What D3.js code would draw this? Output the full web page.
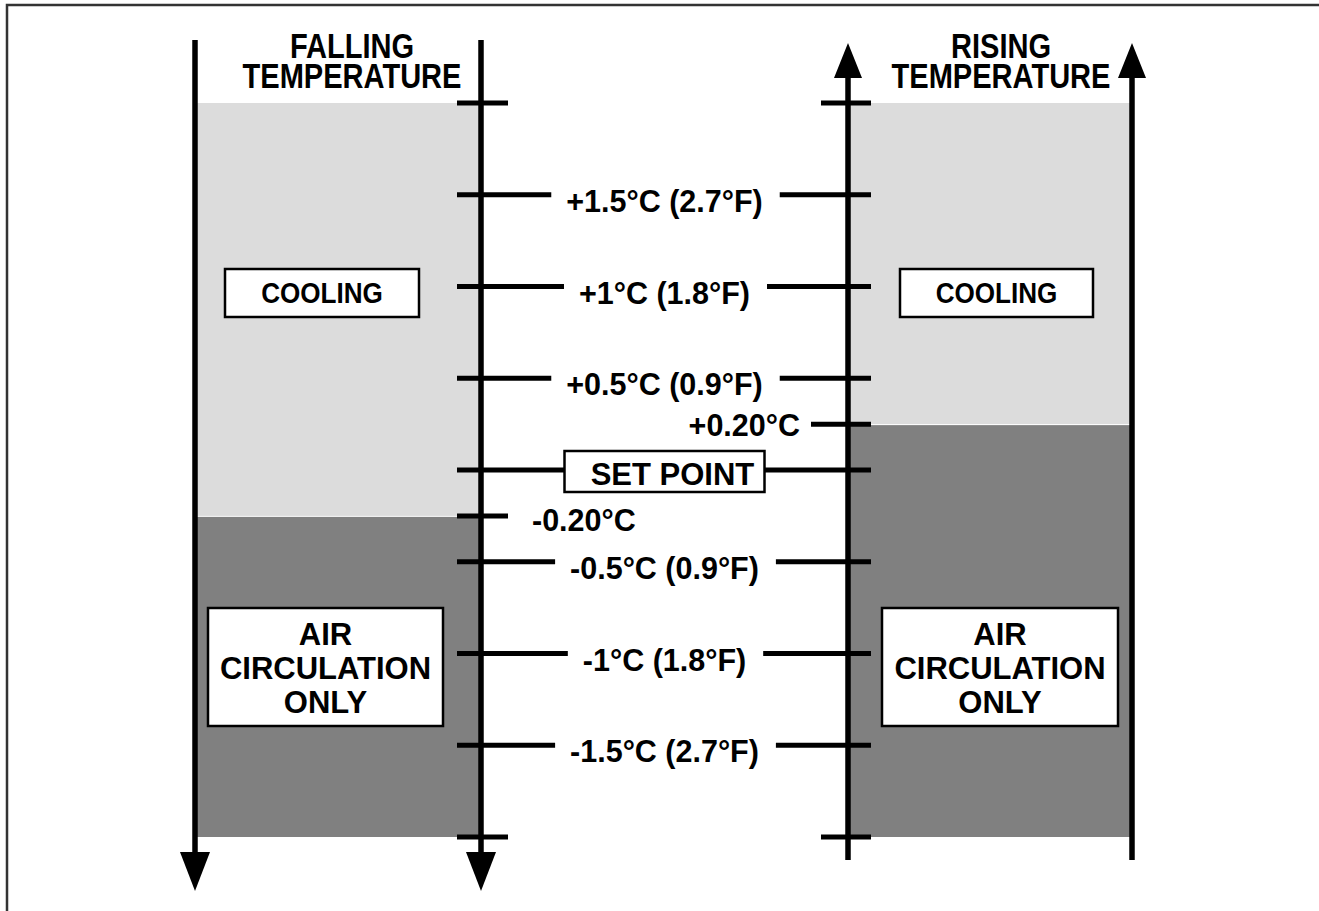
<!DOCTYPE html>
<html>
<head>
<meta charset="utf-8">
<script src="https://cdn.jsdelivr.net/npm/d3@7"></script>
<style>
  html, body { margin: 0; padding: 0; background: #fff; }
  svg text { font-family: "Liberation Sans", Arial, Helvetica, sans-serif; font-weight: bold; fill: #000; }
</style>
</head>
<body>
<svg id="chart" width="1319" height="911"></svg>
<script>
// temperature offset from set point (deg C), position on the scale
var tickValues = [2, 1.5, 1, 0.5, 0, -0.5, -1, -1.5, -2];
var tickLabels = ['', '+1.5°C (2.7°F)', '+1°C (1.8°F)', '+0.5°C (0.9°F)', 'SET POINT', '-0.5°C (0.9°F)', '-1°C (1.8°F)', '-1.5°C (2.7°F)', ''];

// switching points: falling side switches below set point, rising side above
var switchValues = [-0.25, 0.25];
var switchLabels = ['-0.20°C', '+0.20°C'];

var columns = ['FALLING', 'RISING'];
var zoneLabels = ['COOLING', 'AIR CIRCULATION ONLY'];

var svg = d3.select('#chart');

var y = d3.scaleLinear()
  .domain([-2, 2])
  .range([837, 103]);

var lightGray = '#dcdcdc',
  darkGray = '#808080';

// left pair of lines (falling) and right pair (rising)
var cols = [
  { x0: 195, x1: 481, dir: 'down', sw: switchValues[0], headX: 352,
    cool: { x: 225, y: 269, w: 194, h: 48 }, air: { x: 208, y: 608, w: 235, h: 118 } },
  { x0: 848, x1: 1132, dir: 'up', sw: switchValues[1], headX: 1001,
    cool: { x: 900, y: 269, w: 193, h: 48 }, air: { x: 882, y: 608, w: 236, h: 118 } }
];

// frame
svg.append('rect')
  .attr('x', 7).attr('y', 5)
  .attr('width', 1400).attr('height', 1000)
  .attr('fill', 'none')
  .attr('stroke', '#333')
  .attr('stroke-width', 2.5);

// shaded zones
cols.forEach(function(c) {
  svg.append('rect')
    .attr('x', c.x0).attr('y', y(2))
    .attr('width', c.x1 - c.x0).attr('height', y(c.sw) - y(2))
    .attr('fill', lightGray);
  svg.append('rect')
    .attr('x', c.x0).attr('y', y(c.sw) + 1)
    .attr('width', c.x1 - c.x0).attr('height', y(-2) - y(c.sw) - 1)
    .attr('fill', darkGray);
});

// vertical lines with arrows
function arrowLine(x, dir) {
  var g = svg.append('g');
  if (dir === 'down') {
    g.append('line')
      .attr('x1', x).attr('x2', x)
      .attr('y1', 40).attr('y2', 860)
      .attr('stroke', '#000').attr('stroke-width', 5.5);
    g.append('path')
      .attr('d', 'M' + (x - 15) + ',852 L' + (x + 15) + ',852 L' + x + ',891 Z')
      .attr('fill', '#000');
  } else {
    g.append('line')
      .attr('x1', x).attr('x2', x)
      .attr('y1', 70).attr('y2', 860)
      .attr('stroke', '#000').attr('stroke-width', 5.5);
    g.append('path')
      .attr('d', 'M' + (x - 14) + ',78 L' + (x + 14) + ',78 L' + x + ',43 Z')
      .attr('fill', '#000');
  }
}
cols.forEach(function(c) {
  arrowLine(c.x0, c.dir);
  arrowLine(c.x1, c.dir);
});

// headers (tall, condensed lettering), two lines in one text
cols.forEach(function(c, i) {
  var h = svg.append('text')
    .attr('transform', 'translate(' + c.headX + ',58) scale(0.83,1)')
    .attr('text-anchor', 'middle')
    .attr('font-size', 35);
  h.append('tspan').attr('x', 0).attr('y', 0).text(columns[i]);
  h.append('tspan').attr('x', 0).attr('y', 30).text('TEMPERATURE');
});

// tick lines and labels through the middle
var xl = cols[0].x1, xr = cols[1].x0, xm = (xl + xr) / 2;
var gTicks = svg.append('g');

tickValues.forEach(function(v, i) {
  var ty = y(v);
  var lab = tickLabels[i];
  if (!lab) {
    gTicks.append('line').attr('x1', xl - 24).attr('x2', xl + 27).attr('y1', ty).attr('y2', ty);
    gTicks.append('line').attr('x1', xr - 27).attr('x2', xr + 23).attr('y1', ty).attr('y2', ty);
    return;
  }
  var left, right;
  if (lab === 'SET POINT') {
    var bw = 200, bh = 41;
    svg.append('rect')
      .attr('x', xm - bw / 2).attr('y', ty - 19)
      .attr('width', bw).attr('height', bh)
      .attr('fill', '#fff').attr('stroke', '#000').attr('stroke-width', 2.5);
    svg.append('text')
      .attr('x', xm + 8).attr('y', ty + 15)
      .attr('text-anchor', 'middle')
      .attr('font-size', 31)
      .text(lab);
    left = xm - bw / 2;
    right = xm + bw / 2;
  } else {
    var t = svg.append('text')
      .attr('x', xm).attr('y', ty + 17)
      .attr('text-anchor', 'middle')
      .attr('font-size', 30.5)
      .text(lab);
    var w = t.node().getComputedTextLength();
    left = xm - w / 2 - 15;
    right = xm + w / 2 + 17;
  }
  gTicks.append('line').attr('x1', xl - 24).attr('x2', left).attr('y1', ty).attr('y2', ty);
  gTicks.append('line').attr('x1', right).attr('x2', xr + 23).attr('y1', ty).attr('y2', ty);
});

// switching point ticks
gTicks.append('line')
  .attr('x1', xl - 24).attr('x2', xl + 27)
  .attr('y1', y(switchValues[0])).attr('y2', y(switchValues[0]));
svg.append('text')
  .attr('x', xl + 51).attr('y', y(switchValues[0]) + 15)
  .attr('font-size', 30.5)
  .text(switchLabels[0]);

gTicks.append('line')
  .attr('x1', xr - 37).attr('x2', xr + 23)
  .attr('y1', y(switchValues[1])).attr('y2', y(switchValues[1]));
svg.append('text')
  .attr('x', xr - 48).attr('y', y(switchValues[1]) + 12)
  .attr('text-anchor', 'end')
  .attr('font-size', 30.5)
  .text(switchLabels[1]);

gTicks.selectAll('line')
  .attr('stroke', '#000')
  .attr('stroke-width', 5);

// zone label boxes
cols.forEach(function(c) {
  svg.append('rect')
    .attr('x', c.cool.x).attr('y', c.cool.y)
    .attr('width', c.cool.w).attr('height', c.cool.h)
    .attr('fill', '#fff').attr('stroke', '#000').attr('stroke-width', 2.5);
  svg.append('text')
    .attr('transform', 'translate(' + (c.cool.x + c.cool.w / 2) + ',' + (c.cool.y + 34) + ') scale(0.9,1)')
    .attr('text-anchor', 'middle')
    .attr('font-size', 29)
    .text(zoneLabels[0]);

  svg.append('rect')
    .attr('x', c.air.x).attr('y', c.air.y)
    .attr('width', c.air.w).attr('height', c.air.h)
    .attr('fill', '#fff').attr('stroke', '#000').attr('stroke-width', 2.5);
  var words = zoneLabels[1].split(' ');
  words.forEach(function(wd, j) {
    svg.append('text')
      .attr('x', c.air.x + c.air.w / 2)
      .attr('y', c.air.y + 37 + j * 34)
      .attr('text-anchor', 'middle')
      .attr('font-size', 31)
      .text(wd);
  });
});
</script>
</body>
</html>
